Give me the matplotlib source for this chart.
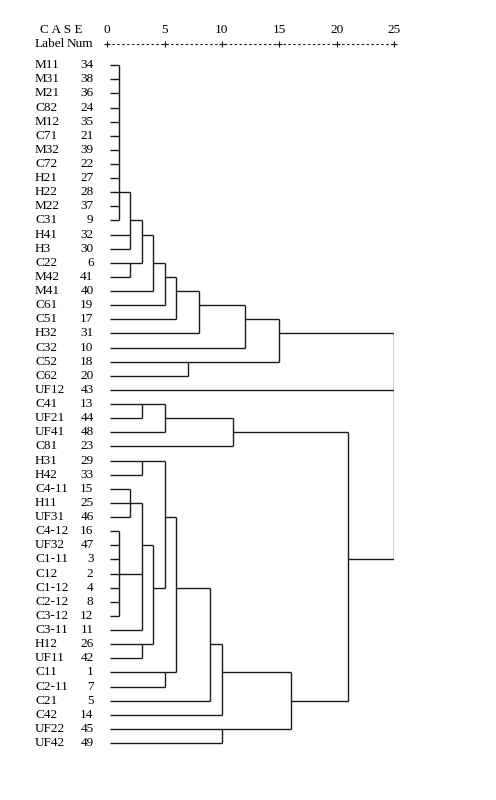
import matplotlib
matplotlib.use("Agg")
import matplotlib.pyplot as plt
import matplotlib.transforms as mtrans

# case labels and numbers, top to bottom as in the dendrogram
labels = ["M11", "M31", "M21", "C82", "M12", "C71", "M32", "C72", "H21", "H22",
          "M22", "C31", "H41", "H3", "C22", "M42", "M41", "C61", "C51", "H32",
          "C32", "C52", "C62", "UF12", "C41", "UF21", "UF41", "C81", "H31", "H42",
          "C4-11", "H11", "UF31", "C4-12", "UF32", "C1-11", "C12", "C1-12", "C2-12", "C3-12",
          "C3-11", "H12", "UF11", "C11", "C2-11", "C21", "C42", "UF22", "UF42"]
nums = [34, 38, 36, 24, 35, 21, 39, 22, 27, 28,
        37, 9, 32, 30, 6, 41, 40, 19, 17, 31,
        10, 18, 20, 43, 13, 44, 48, 23, 29, 33,
        15, 25, 46, 16, 47, 3, 2, 4, 8, 12,
        11, 26, 42, 1, 7, 5, 14, 45, 49]

# merges: name, members, rescaled distance, case whose row carries the link
merge_names = ["m1", "m2", "m3", "m4", "m5", "m6", "m7", "m8", "m9", "m10", "m11",
               "n1", "n2", "n3", "n4", "n5", "n6", "n7", "n8", "n9", "n10",
               "n11", "n12", "n13", "n14", "n15", "n16", "n17", "root"]
merge_members = [
    ["M11", "M31", "M21", "C82", "M12", "C71", "M32", "C72", "H21", "H22", "M22", "C31"],
    ["m1", "H41", "H3"],
    ["C22", "M42"],
    ["m2", "m3"],
    ["m4", "M41"],
    ["m5", "C61"],
    ["m6", "C51"],
    ["m7", "H32"],
    ["m8", "C32"],
    ["C52", "C62"],
    ["m9", "m10"],
    ["C41", "UF21"],
    ["n1", "UF41"],
    ["n2", "C81"],
    ["H31", "H42"],
    ["C4-11", "H11", "UF31"],
    ["C4-12", "UF32", "C1-11", "C12", "C1-12", "C2-12", "C3-12"],
    ["n5", "n6", "C3-11"],
    ["H12", "UF11"],
    ["n7", "n8"],
    ["n4", "n9"],
    ["C11", "C2-11"],
    ["n10", "n11"],
    ["n12", "C21"],
    ["n13", "C42"],
    ["UF22", "UF42"],
    ["n14", "n15"],
    ["n3", "n16"],
    ["m11", "UF12", "n17"],
]
merge_dist = [1, 2, 2, 3, 4, 5, 6, 8, 12, 7, 15,
              3, 5, 11, 3, 2, 1, 3, 3, 4, 5,
              5, 6, 9, 10, 10, 16, 21, 25]
merge_link = ["H22", "C31", "C22", "H41", "C22", "M42", "M41", "C61", "C51", "C52", "H32",
              "C41", "UF21", "UF41", "H31", "H11", "C12", "UF32", "H12", "C1-12", "UF31",
              "C11", "C1-12", "H12", "C11", "UF22", "C21", "C1-11", None]

axis_ticks = [0, 5, 10, 15, 20, 25]

plt.rcParams['font.family'] = ['Liberation Serif', 'DejaVu Serif']
lc = "#1a1a1a"
fs = 9.5

fig = plt.figure(figsize=(4.96, 8.0), dpi=100)
ax = fig.add_axes([0.2163, 0.0624, 0.578, 0.865])
ax.set_xlim(0, 25)
ax.set_ylim(len(labels) - 0.5, -0.5)
ax.axis("off")

leaf_start = 0.25
row_of = {lab: i for i, lab in enumerate(labels)}
# node -> (row, x where its line currently ends)
pos = {lab: (i, leaf_start) for i, lab in enumerate(labels)}

for name, members, d, link in zip(merge_names, merge_members, merge_dist, merge_link):
    rows = []
    for m in members:
        r, x0 = pos[m]
        ax.plot([x0, d], [r, r], color=lc, lw=1.0, solid_capstyle="butt")
        rows.append(r)
    ax.plot([d, d], [min(rows), max(rows)], color=lc, lw=1.0, solid_capstyle="butt")
    if link is not None:
        pos[name] = (row_of[link], d)

# case labels and numbers
tr = mtrans.blended_transform_factory(ax.transAxes, ax.transData)
for i, (lab, n) in enumerate(zip(labels, nums)):
    ax.text(-0.252, i, lab, transform=tr, ha="left", va="center", fontsize=fs, clip_on=False)
    ax.text(-0.048, i, str(n), transform=tr, ha="right", va="center", fontsize=fs, clip_on=False)

# header
y_num = -2.5
y_axis = -1.5
ax.text(-0.233, y_num, "C A S E", transform=tr, ha="left", va="center", fontsize=fs, clip_on=False)
ax.text(-0.252, y_axis, "Label", transform=tr, ha="left", va="center", fontsize=fs, clip_on=False)
ax.text(-0.048, y_axis, "Num", transform=tr, ha="right", va="center", fontsize=fs, clip_on=False)
for t in axis_ticks:
    ax.text(t, y_num, str(t), ha="center", va="center", fontsize=fs, clip_on=False)
ax.plot([axis_ticks[0], axis_ticks[-1]], [y_axis, y_axis], color=lc, lw=0.8,
        linestyle=(0, (2.2, 2.2)), clip_on=False)
ax.plot(axis_ticks, [y_axis] * len(axis_ticks), linestyle="none", marker="+",
        color=lc, markersize=5, mew=0.8, clip_on=False)

fig.savefig("out.png", dpi=100, facecolor="white")
